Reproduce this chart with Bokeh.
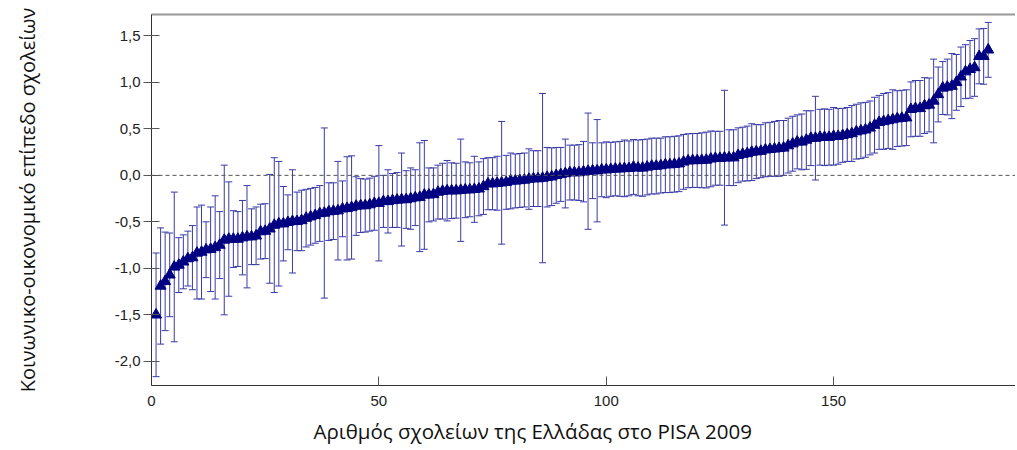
from bokeh.plotting import figure
from bokeh.models import (ColumnDataSource, Whisker, TeeHead, Span, Title,
                          FixedTicker, Range1d, LinearAxis)
from bokeh.embed import file_html
from bokeh.resources import INLINE

# School mean socio-economic level (sorted)
means_a = [-1.50, -1.19, -1.14, -1.07, -0.985, -0.965, -0.93, -0.895, -0.885, -0.835,
           -0.825, -0.80, -0.795, -0.775, -0.75, -0.695, -0.685, -0.685, -0.685, -0.67,
           -0.66, -0.66, -0.65, -0.605, -0.60, -0.575]
means_b = [-0.535, -0.52, -0.52, -0.505, -0.495, -0.495, -0.485, -0.46, -0.445, -0.43,
           -0.41, -0.405, -0.39, -0.385, -0.38, -0.36, -0.355, -0.345, -0.33, -0.325,
           -0.325, -0.315, -0.30, -0.30, -0.28, -0.28]
means_c = [-0.27, -0.265, -0.26, -0.26, -0.25, -0.24, -0.235, -0.21, -0.21, -0.205,
           -0.18, -0.17, -0.165, -0.165, -0.165, -0.16, -0.155, -0.155, -0.15, -0.145,
           -0.12, -0.09, -0.09, -0.085, -0.08, -0.075, -0.06]
means_d = [-0.06, -0.055, -0.05, -0.04, -0.035, -0.035, -0.03, -0.02, -0.015, 0.0,
           0.01, 0.02, 0.03, 0.03, 0.03, 0.04, 0.045, 0.05, 0.05, 0.06,
           0.06, 0.065, 0.07, 0.07, 0.075, 0.075, 0.09]
means_e = [0.08, 0.08, 0.09, 0.10, 0.10, 0.105, 0.115, 0.115, 0.12, 0.125,
           0.145, 0.157, 0.16, 0.16, 0.162, 0.165, 0.177, 0.184, 0.184, 0.19,
           0.19, 0.19, 0.216, 0.228, 0.235, 0.25]
means_f = [0.255, 0.26, 0.275, 0.28, 0.285, 0.29, 0.295, 0.32, 0.34, 0.36,
           0.36, 0.38, 0.40, 0.40, 0.41, 0.41, 0.41, 0.42, 0.42, 0.43,
           0.44, 0.45, 0.47, 0.48, 0.49, 0.51]
means_g = [0.54, 0.57, 0.58, 0.59, 0.60, 0.61, 0.615, 0.62, 0.71, 0.72,
           0.72, 0.75, 0.757, 0.80, 0.87, 0.94, 0.95, 0.96, 1.00, 1.06,
           1.115, 1.14, 1.16, 1.28, 1.28, 1.35]

# Half-length of each school's interval
half_a = [0.665, 0.625, 0.53, 0.45, 0.805, 0.295, 0.29, 0.295, 0.345, 0.495,
          0.505, 0.30, 0.455, 0.555, 0.36, 0.805, 0.615, 0.305, 0.295, 0.40,
          0.55, 0.30, 0.31, 0.295, 0.295, 0.585]
half_b = [0.725, 0.67, 0.40, 0.295, 0.555, 0.315, 0.325, 0.31, 0.305, 0.30,
          0.30, 0.915, 0.31, 0.305, 0.53, 0.30, 0.555, 0.555, 0.315, 0.29,
          0.285, 0.285, 0.29, 0.62, 0.28, 0.34]
half_c = [0.29, 0.295, 0.50, 0.31, 0.33, 0.30, 0.585, 0.585, 0.29, 0.285,
          0.29, 0.30, 0.325, 0.30, 0.295, 0.55, 0.30, 0.29, 0.355, 0.29,
          0.30, 0.28, 0.28, 0.29, 0.66, 0.29, 0.30]
half_d = [0.29, 0.29, 0.29, 0.325, 0.30, 0.30, 0.91, 0.32, 0.31, 0.30,
          0.29, 0.37, 0.295, 0.295, 0.30, 0.325, 0.625, 0.30, 0.55, 0.29,
          0.30, 0.29, 0.29, 0.295, 0.305, 0.295, 0.295]
half_e = [0.30, 0.305, 0.30, 0.30, 0.30, 0.295, 0.30, 0.30, 0.30, 0.30,
          0.295, 0.29, 0.29, 0.29, 0.295, 0.30, 0.30, 0.29, 0.29, 0.725,
          0.30, 0.30, 0.295, 0.29, 0.295, 0.305]
half_f = [0.29, 0.285, 0.29, 0.29, 0.295, 0.30, 0.295, 0.295, 0.295, 0.29,
          0.30, 0.315, 0.295, 0.45, 0.30, 0.305, 0.30, 0.31, 0.30, 0.29,
          0.29, 0.30, 0.295, 0.30, 0.295, 0.29]
half_g = [0.30, 0.29, 0.30, 0.30, 0.32, 0.30, 0.30, 0.30, 0.295, 0.30,
          0.30, 0.30, 0.29, 0.45, 0.295, 0.285, 0.30, 0.35, 0.30, 0.32,
          0.29, 0.31, 0.31, 0.295, 0.30, 0.295]

x_ticks = [0, 50, 100, 150]
y_ticks = [-2.0, -1.5, -1.0, -0.5, 0.0, 0.5, 1.0, 1.5]
y_tick_labels = ["-2,0", "-1,5", "-1,0", "-0,5", "0,0", "0,5", "1,0", "1,5"]
x_title = "Αριθμός σχολείων της Ελλάδας στο PISA 2009"
y_title = "Κοινωνικο-οικονομικό επίπεδο σχολείων"

means = means_a + means_b + means_c + means_d + means_e + means_f + means_g
halves = half_a + half_b + half_c + half_d + half_e + half_f + half_g
schools = list(range(1, len(means) + 1))
lower = [m - h for m, h in zip(means, halves)]
upper = [m + h for m, h in zip(means, halves)]

src = ColumnDataSource(dict(x=schools, y=means, lower=lower, upper=upper))

p = figure(width=1015, height=450, output_backend="svg", toolbar_location=None,
           x_range=Range1d(0, 190.0), y_range=Range1d(-2.26, 1.73),
           min_border_left=151, min_border_right=0, min_border_top=14,
           min_border_bottom=63)
p.outline_line_color = None
p.xgrid.visible = False
p.ygrid.visible = False
p.background_fill_color = "white"
p.border_fill_color = "white"

bar_col = "#3a3aa6"
wh = Whisker(base="x", upper="upper", lower="lower", source=src,
             line_color=bar_col, line_width=1,
             upper_head=TeeHead(size=7, line_color=bar_col, line_width=1),
             lower_head=TeeHead(size=7, line_color=bar_col, line_width=1))
p.add_layout(wh)

p.add_layout(Span(location=0, dimension="width", line_color="#555555",
                  line_width=1, line_dash="4 3"))

p.scatter("x", "y", source=src, marker="triangle", size=11,
          fill_color="#000080", line_color="#000080")

tick_font = "Liberation Sans"
title_font = "Open Sans"

yax = p.yaxis[0]
yax.ticker = FixedTicker(ticks=y_ticks)
yax.major_label_overrides = {t: l for t, l in zip(y_ticks, y_tick_labels)}
yax.major_tick_in = 8
yax.major_tick_out = 8
yax.minor_tick_line_color = None
yax.axis_line_color = "#333333"
yax.major_tick_line_color = "#555555"
yax.major_label_text_font = tick_font
yax.major_label_text_font_size = "15px"
yax.major_label_text_color = "#222222"
yax.major_label_standoff = 3
yax.axis_label = y_title
yax.axis_label_text_font = title_font
yax.axis_label_text_font_size = "20px"
yax.axis_label_text_font_style = "normal"
yax.axis_label_text_color = "#111111"
yax.axis_label_standoff = 71

xax = p.xaxis[0]
xax.ticker = FixedTicker(ticks=x_ticks)
xax.major_tick_in = 9
xax.major_tick_out = 0
xax.minor_tick_line_color = None
xax.axis_line_color = "#333333"
xax.major_tick_line_color = "#555555"
xax.major_label_text_font = tick_font
xax.major_label_text_font_size = "15px"
xax.major_label_text_color = "#222222"
xax.major_label_standoff = 10

top = LinearAxis(ticker=FixedTicker(ticks=[]), axis_line_color="#999999",
                 axis_line_width=2, major_tick_line_color=None,
                 minor_tick_line_color=None, major_label_text_font_size="0px")
p.add_layout(top, "above")

xt = Title(text=x_title, align="left", offset=162, standoff=12,
           text_font=title_font, text_font_size="20.5px",
           text_font_style="normal", text_color="#111111")
p.add_layout(xt, "below")

open("out.html", "w").write(file_html(p, INLINE))
